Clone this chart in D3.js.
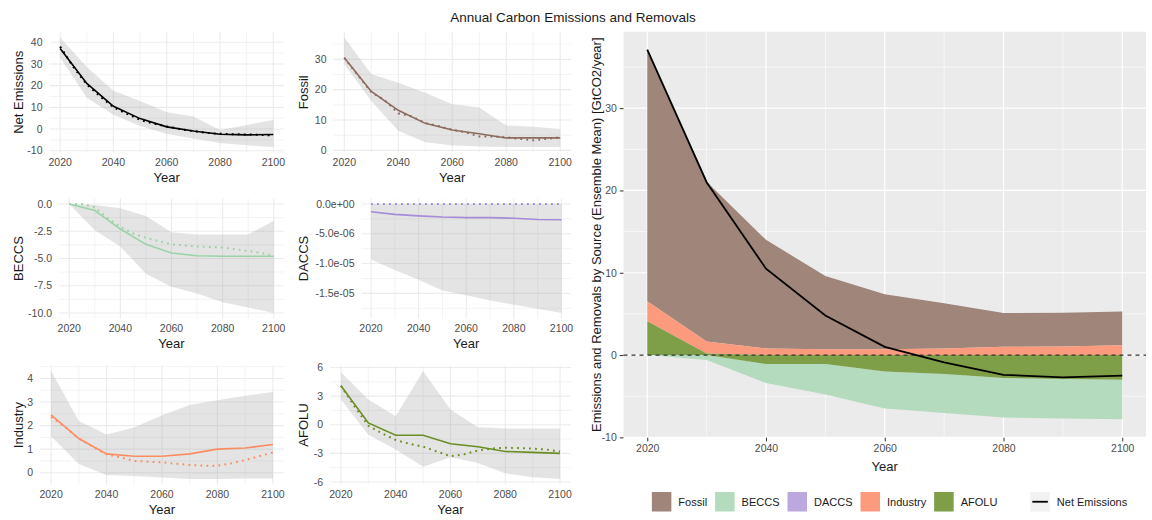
<!DOCTYPE html>
<html>
<head>
<meta charset="utf-8">
<script src="https://cdn.jsdelivr.net/npm/d3@7"></script>
<style>
  body { margin: 0; background: #fff; }
  svg { font-family: "Liberation Sans", Arial, sans-serif; }
</style>
</head>
<body>
<svg id="chart" width="1152" height="520"></svg>
<script>
// decadal ensemble values
const years = [2020, 2030, 2040, 2050, 2060, 2070, 2080, 2090, 2100];
const netMean      = [37.1, 21.0, 10.5, 4.8, 1.0, -0.9, -2.4, -2.7, -2.5];
const fossilMean   = [30.5, 19.4, 13.2, 8.9, 6.7, 5.5, 4.1, 4.1, 4.1];
const beccsMean    = [0, -0.6, -2.3, -3.7, -4.5, -4.75, -4.8, -4.8, -4.8];
const daccsMean    = [-1.3e-6, -1.75e-6, -2.0e-6, -2.2e-6, -2.3e-6, -2.3e-6, -2.4e-6, -2.6e-6, -2.65e-6];
const industryMean = [2.45, 1.45, 0.8, 0.7, 0.7, 0.8, 1.0, 1.05, 1.2];
const afoluMean    = [4.1, 0.2, -1.1, -1.1, -2.0, -2.3, -2.8, -2.9, -3.0];

// ensemble min / max
const netLo      = [33, 14.4, 6.6, 1.4, -2.3, -4.4, -6.4, -7.5, -8.3];
const netHi      = [42.2, 28.6, 17.6, 12.9, 7.7, 5.8, -0.5, 1.9, 4.2];
const fossilLo   = [28.5, 16.3, 6.5, 2.7, 1.6, 1.3, 1.1, 1.1, 1.1];
const fossilHi   = [37.2, 25.2, 22.3, 19.0, 15.2, 14.1, 8.2, 7.8, 7.0];
const beccsLo    = [0, -2.4, -3.9, -6.4, -7.6, -8.2, -9.0, -9.5, -10.0];
const beccsHi    = [0, -0.1, -0.4, -1.1, -2.6, -2.8, -2.8, -2.8, -1.55];
const daccsLo    = [-9.3e-6, -1.11e-5, -1.27e-5, -1.45e-5, -1.53e-5, -1.62e-5, -1.69e-5, -1.76e-5, -1.83e-5];
const daccsHi    = [0, 0, 0, 0, 0, 0, 0, 0, 0];
const industryLo = [1.55, 0.37, -0.1, -0.14, -0.2, -0.27, -0.27, -0.24, -0.24];
const industryHi = [4.32, 2.2, 1.62, 1.92, 2.44, 2.87, 3.08, 3.27, 3.43];
const afoluLo    = [2.65, -1.05, -2.6, -4.4, -3.4, -4.0, -5.1, -5.5, -5.7];
const afoluHi    = [5.5, 2.65, 0.9, 5.65, 1.6, -0.25, -0.4, -0.4, -0.4];

// reference run (dotted), 5-yearly
const refYears = [2020, 2025, 2030, 2035, 2040, 2045, 2050, 2055, 2060, 2065, 2070, 2075, 2080, 2085, 2090, 2095, 2100];
const netRef      = [38, 28.5, 20.5, 15, 10, 7, 4.2, 2.5, 1.2, 0, -1, -1.8, -2.2, -2.4, -2.5, -2.7, -3];
const fossilRef   = [30.5, 24.8, 19.2, 16.5, 12.2, 11.2, 9.0, 8.0, 6.8, 5.9, 4.6, 4.6, 4.3, 3.8, 3.3, 3.8, 4.3];
const beccsRef    = [0, 0, -0.3, -1.3, -2.1, -2.7, -3.1, -3.4, -3.7, -3.8, -3.9, -3.95, -4.0, -4.15, -4.3, -4.5, -4.75];
const daccsRef    = [0, 0, 0, 0, 0, 0, 0, 0, 0, 0, 0, 0, 0, 0, 0, 0, 0];
const industryRef = [2.37, 1.95, 1.45, 1.1, 0.78, 0.65, 0.5, 0.47, 0.44, 0.38, 0.33, 0.3, 0.3, 0.4, 0.54, 0.7, 0.86];
const afoluRef    = [4.1, 1.9, -0.1, -0.9, -1.6, -2.0, -2.3, -2.8, -3.3, -3.1, -2.7, -2.5, -2.4, -2.45, -2.5, -2.6, -2.8];

const xTicks = [2020, 2040, 2060, 2080, 2100];
const xMinor = [2030, 2050, 2070, 2090];

const sources = ['Fossil', 'BECCS', 'DACCS', 'Industry', 'AFOLU'];
const fillColors = { Fossil: '#9f857a', BECCS: '#b5dbbf', DACCS: '#bba8de', Industry: '#fb9a7c', AFOLU: '#7f9e48' };

const svg = d3.select('#chart');
const tickCol = '#4d4d4d';
const titleCol = '#1a1a1a';

const plain = d => String(d);
const oneDec = d => d.toFixed(1);
const sci = d => {
  const [m, e] = d.toExponential(1).split('e');
  const sign = e[0] === '-' ? '-' : '+';
  const digits = e.replace(/[+-]/, '').padStart(2, '0');
  return m + 'e' + sign + digits;
};

const panels = [
  { label: 'Net Emissions', mean: netMean, lo: netLo, hi: netHi, ref: netRef, color: '#000000',
    ticks: [-10, 0, 10, 20, 30, 40], fmt: plain, box: [49.5, 32, 284, 152.5], colX: 0 },
  { label: 'Fossil', mean: fossilMean, lo: fossilLo, hi: fossilHi, ref: fossilRef, color: '#8c6a5d',
    ticks: [0, 10, 20, 30], fmt: plain, box: [333.5, 32, 571, 152.5], colX: 285 },
  { label: 'BECCS', mean: beccsMean, lo: beccsLo, hi: beccsHi, ref: beccsRef, color: '#9ad3a7',
    ticks: [-10, -7.5, -5, -2.5, 0], fmt: oneDec, box: [59, 198.5, 284, 318.5], colX: 0 },
  { label: 'DACCS', mean: daccsMean, lo: daccsLo, hi: daccsHi, ref: daccsRef, color: '#a58bd8',
    ticks: [-1.5e-5, -1e-5, -5e-6, 0], fmt: sci, box: [361.5, 198.5, 571, 318.5], colX: 285 },
  { label: 'Industry', mean: industryMean, lo: industryLo, hi: industryHi, ref: industryRef, color: '#fc8d62',
    ticks: [0, 1, 2, 3, 4], fmt: plain, box: [40, 365.5, 284, 484.5], colX: 0 },
  { label: 'AFOLU', mean: afoluMean, lo: afoluLo, hi: afoluHi, ref: afoluRef, color: '#6b8e23',
    ticks: [-6, -3, 0, 3, 6], fmt: plain, box: [330, 365.5, 571, 484.5], colX: 285 }
];

function expand(ext) {
  const pad = (ext[1] - ext[0]) * 0.05;
  return [ext[0] - pad, ext[1] + pad];
}

function minorOf(ticks, domain) {
  const step = ticks[1] - ticks[0];
  const out = [];
  for (let i = -1; i < ticks.length; i++) {
    const v = ticks[0] + step * (i + 0.5);
    if (v >= domain[0] && v <= domain[1]) out.push(v);
  }
  return out;
}

// ---- small panels ----
panels.forEach(p => {
  const [x0, y0, x1, y1] = p.box;
  const g = svg.append('g');
  const x = d3.scaleLinear().domain([2016, 2104]).range([x0, x1]);
  const yDom = expand(d3.extent([...p.lo, ...p.hi, ...p.mean, ...p.ref]));
  const y = d3.scaleLinear().domain(yDom).range([y1, y0]);

  // grid
  const grid = g.append('g').attr('stroke', '#ebebeb');
  grid.selectAll('.ymin').data(minorOf(p.ticks, yDom)).join('line')
    .attr('x1', x0).attr('x2', x1).attr('y1', y).attr('y2', y).attr('stroke-width', 0.6);
  grid.selectAll('.xmin').data(xMinor).join('line')
    .attr('x1', x).attr('x2', x).attr('y1', y0).attr('y2', y1).attr('stroke-width', 0.6);
  grid.selectAll('.ymaj').data(p.ticks).join('line')
    .attr('x1', x0).attr('x2', x1).attr('y1', y).attr('y2', y).attr('stroke-width', 1.1);
  grid.selectAll('.xmaj').data(xTicks).join('line')
    .attr('x1', x).attr('x2', x).attr('y1', y0).attr('y2', y1).attr('stroke-width', 1.1);

  // ribbon
  const band = d3.area().x((d, i) => x(years[i])).y0((d, i) => y(p.lo[i])).y1((d, i) => y(p.hi[i]));
  g.append('path').datum(years).attr('d', band)
    .attr('fill', '#a6a6a6').attr('fill-opacity', 0.3);

  // reference dotted
  const refLine = d3.line().x((d, i) => x(refYears[i])).y(d => y(d));
  g.append('path').datum(p.ref).attr('d', refLine)
    .attr('fill', 'none').attr('stroke', p.color).attr('stroke-width', 2)
    .attr('stroke-dasharray', '1.8 4.2');

  // mean solid
  const meanLine = d3.line().x((d, i) => x(years[i])).y(d => y(d));
  g.append('path').datum(p.mean).attr('d', meanLine)
    .attr('fill', 'none').attr('stroke', p.color).attr('stroke-width', 1.6);

  // tick labels
  g.selectAll('.yl').data(p.ticks).join('text')
    .attr('x', x0 - 7).attr('y', y).attr('dy', '0.35em')
    .attr('text-anchor', 'end').attr('font-size', 10.5).attr('fill', tickCol)
    .text(p.fmt);
  g.selectAll('.xl').data(xTicks).join('text')
    .attr('x', x).attr('y', y1 + 10).attr('dy', '0.35em')
    .attr('text-anchor', 'middle').attr('font-size', 10.5).attr('fill', tickCol)
    .text(d => d);

  // titles
  g.append('text').attr('x', (x0 + x1) / 2).attr('y', y1 + 25).attr('dy', '0.35em')
    .attr('text-anchor', 'middle').attr('font-size', 13).attr('fill', titleCol).text('Year');
  g.append('text')
    .attr('transform', `translate(${p.colX + 18},${(y0 + y1) / 2}) rotate(-90)`)
    .attr('dy', '0.35em').attr('text-anchor', 'middle').attr('font-size', 13).attr('fill', titleCol)
    .text(p.label);
});

// ---- main stacked chart ----
const mBox = { left: 623.5, top: 31.7, right: 1146, bottom: 437.7 };
const rows = years.map((yr, i) => ({
  year: yr, Fossil: fossilMean[i], BECCS: beccsMean[i], DACCS: daccsMean[i],
  Industry: industryMean[i], AFOLU: afoluMean[i]
}));
const stackOrder = ['AFOLU', 'Industry', 'DACCS', 'BECCS', 'Fossil'];
const stacked = d3.stack().keys(stackOrder).offset(d3.stackOffsetDiverging)(rows);

const mx = d3.scaleLinear().domain([2016, 2104]).range([mBox.left, mBox.right]);
const mDom = expand([d3.min(stacked, s => d3.min(s, d => d[0])), d3.max(stacked, s => d3.max(s, d => d[1]))]);
const my = d3.scaleLinear().domain(mDom).range([mBox.bottom, mBox.top]);

const main = svg.append('g');
main.append('rect').attr('x', mBox.left).attr('y', mBox.top)
  .attr('width', mBox.right - mBox.left).attr('height', mBox.bottom - mBox.top).attr('fill', '#ebebeb');

const yMajor = [-10, 0, 10, 20, 30];
const mgrid = main.append('g').attr('stroke', '#ffffff');
mgrid.selectAll('.a').data(minorOf(yMajor, mDom)).join('line')
  .attr('x1', mBox.left).attr('x2', mBox.right).attr('y1', my).attr('y2', my).attr('stroke-width', 0.6);
mgrid.selectAll('.b').data(xMinor).join('line')
  .attr('x1', mx).attr('x2', mx).attr('y1', mBox.top).attr('y2', mBox.bottom).attr('stroke-width', 0.6);
mgrid.selectAll('.c').data(yMajor).join('line')
  .attr('x1', mBox.left).attr('x2', mBox.right).attr('y1', my).attr('y2', my).attr('stroke-width', 1.2);
mgrid.selectAll('.d').data(xTicks).join('line')
  .attr('x1', mx).attr('x2', mx).attr('y1', mBox.top).attr('y2', mBox.bottom).attr('stroke-width', 1.2);

const stackArea = d3.area().x(d => mx(d.data.year)).y0(d => my(d[0])).y1(d => my(d[1]));
const drawOrder = ['Fossil', 'BECCS', 'DACCS', 'Industry', 'AFOLU'];
drawOrder.forEach(k => {
  const s = stacked.find(t => t.key === k);
  main.append('path').datum(s).attr('d', stackArea).attr('fill', fillColors[k]);
});

main.append('line').attr('x1', mBox.left).attr('x2', mBox.right)
  .attr('y1', my(0)).attr('y2', my(0))
  .attr('stroke', '#333').attr('stroke-width', 1.2).attr('stroke-dasharray', '4 4');

main.append('path').datum(netMean)
  .attr('d', d3.line().x((d, i) => mx(years[i])).y(d => my(d)))
  .attr('fill', 'none').attr('stroke', '#000').attr('stroke-width', 1.8);

// axes
const yAxis = main.append('g').attr('transform', `translate(${mBox.left},0)`)
  .call(d3.axisLeft(my).tickValues(yMajor).tickSize(3.7).tickPadding(3).tickFormat(plain));
const xAxis = main.append('g').attr('transform', `translate(0,${mBox.bottom})`)
  .call(d3.axisBottom(mx).tickValues(xTicks).tickSize(3.7).tickPadding(3).tickFormat(d => d));
[yAxis, xAxis].forEach(a => {
  a.select('.domain').remove();
  a.selectAll('line').attr('stroke', '#333').attr('stroke-width', 1);
  a.selectAll('text').attr('fill', tickCol).attr('font-size', 10.5)
    .attr('font-family', '"Liberation Sans", Arial, sans-serif');
});

main.append('text').attr('x', (mBox.left + mBox.right) / 2).attr('y', 466).attr('dy', '0.35em')
  .attr('text-anchor', 'middle').attr('font-size', 13).attr('fill', titleCol).text('Year');
main.append('text')
  .attr('transform', `translate(596,${(mBox.top + mBox.bottom) / 2}) rotate(-90)`)
  .attr('dy', '0.35em').attr('text-anchor', 'middle').attr('font-size', 13).attr('fill', titleCol)
  .text('Emissions and Removals by Source (Ensemble Mean) [GtCO2/year]');

// overall title
svg.append('text').attr('x', 573).attr('y', 17).attr('dy', '0.35em')
  .attr('text-anchor', 'middle').attr('font-size', 13.5).attr('fill', titleCol)
  .text('Annual Carbon Emissions and Removals');

// legend
const leg = svg.append('g');
const keySize = 19.5, legY = 492;
let cx = 0;
sources.forEach(s => {
  leg.append('rect').attr('x', cx).attr('y', legY).attr('width', keySize).attr('height', keySize)
    .attr('fill', fillColors[s]);
  const t = leg.append('text').attr('x', cx + keySize + 7).attr('y', legY + keySize / 2).attr('dy', '0.35em')
    .attr('font-size', 11).attr('fill', titleCol).text(s);
  cx += keySize + 7 + t.node().getComputedTextLength() + 8;
});
cx += 25;
leg.append('rect').attr('x', cx).attr('y', legY).attr('width', keySize).attr('height', keySize).attr('fill', '#f2f2f2');
leg.append('line').attr('x1', cx + 2).attr('x2', cx + keySize - 2)
  .attr('y1', legY + keySize / 2).attr('y2', legY + keySize / 2).attr('stroke', '#000').attr('stroke-width', 1.8);
const nt = leg.append('text').attr('x', cx + keySize + 7).attr('y', legY + keySize / 2).attr('dy', '0.35em')
  .attr('font-size', 11).attr('fill', titleCol).text('Net Emissions');
const legW = cx + keySize + 7 + nt.node().getComputedTextLength();
leg.attr('transform', `translate(${889.5 - legW / 2},0)`);
</script>
</body>
</html>
